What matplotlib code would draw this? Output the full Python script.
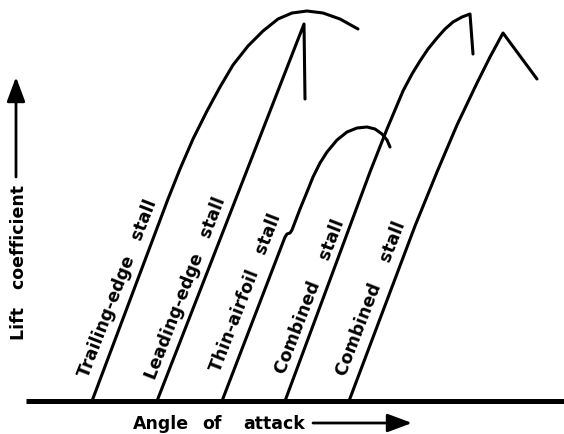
import matplotlib
matplotlib.use("Agg")
import matplotlib.pyplot as plt

# schematic lift curves: angle of attack (x) vs lift coefficient (y), arbitrary units
te_alpha = [92, 168, 180, 193, 207, 220, 233, 248, 263, 278, 292, 307, 323, 340, 358]
te_cl = [0, 202, 232, 262, 290, 314, 336, 355, 370, 382, 388, 390, 388, 382, 372]

le_alpha = [157, 304, 305]
le_cl = [0, 377, 302]

thin_alpha = [222, 285, 287, 290, 292, 300, 307, 313, 320, 327, 337, 347, 357, 367, 375, 382, 387, 390]
thin_cl = [0, 164, 167, 168, 171, 192, 209, 224, 238, 249, 261, 269, 273, 274, 272, 267, 261, 254]

comb1_alpha = [285, 370, 387, 403, 412, 420, 428, 437, 445, 453, 462, 470, 473]
comb1_cl = [0, 229, 272, 310, 327, 340, 352, 363, 372, 379, 384, 387, 347]

comb2_alpha = [349, 415, 437, 457, 477, 490, 503, 537]
comb2_cl = [0, 175, 229, 276, 318, 344, 368, 322]

labels = ["Trailing-edge   stall", "Leading-edge   stall", "Thin-airfoil   stall",
          "Combined    stall", "Combined    stall"]
label_alpha = [118, 186, 246, 310, 371]
label_cl = [114, 114, 109, 105, 103]

xlabel_words = ["Angle", "of", "attack"]
xlabel_pos = [133, 202, 243]

fig = plt.figure(figsize=(5.64, 4.35), dpi=100)
ax = fig.add_axes([0, 0, 1, 1])
ax.set_xlim(0, 564)
ax.set_ylim(-33, 402)
ax.axis("off")

lw = 2.2
for a, c in [(te_alpha, te_cl), (le_alpha, le_cl), (thin_alpha, thin_cl),
             (comb1_alpha, comb1_cl), (comb2_alpha, comb2_cl)]:
    ax.plot(a, c, color="black", lw=lw, solid_capstyle="round", solid_joinstyle="round")

# baseline (alpha axis)
ax.plot([26, 564], [0, 0], color="black", lw=3.6, solid_capstyle="butt")

font = dict(fontsize=12.5, fontweight="bold", family="DejaVu Sans")
for txt, x, y in zip(labels, label_alpha, label_cl):
    ax.text(x, y, txt, rotation=68.8, rotation_mode="anchor", ha="center", va="center", **font)

# axis titles with arrows
ax.text(19, 140, "Lift   coefficient", rotation=90, ha="center", va="center", **font)
ax.annotate("", xy=(16, 324), xytext=(16, 224),
            arrowprops=dict(arrowstyle="-|>,head_length=0.75,head_width=0.28",
                            mutation_scale=20, lw=2, color="black", shrinkA=0, shrinkB=0))

for w, x in zip(xlabel_words, xlabel_pos):
    ax.text(x, -22, w, ha="left", va="center", **font)
ax.annotate("", xy=(412, -22), xytext=(313, -22),
            arrowprops=dict(arrowstyle="-|>,head_length=0.75,head_width=0.28",
                            mutation_scale=20, lw=2, color="black", shrinkA=0, shrinkB=0))

fig.savefig("out.png", dpi=100)
